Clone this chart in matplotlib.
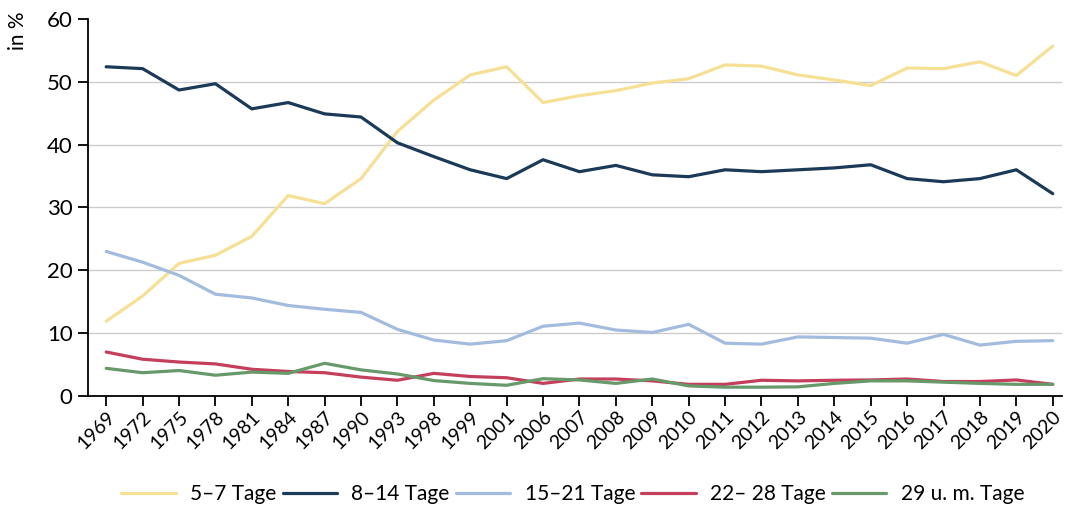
import matplotlib
matplotlib.use('Agg')
import matplotlib.pyplot as plt

plt.rcParams['font.family'] = ['Lato', 'DejaVu Sans']

years = ['1969', '1972', '1975', '1978', '1981', '1984', '1987', '1990', '1993',
         '1998', '1999', '2001', '2006', '2007', '2008', '2009', '2010', '2011',
         '2012', '2013', '2014', '2015', '2016', '2017', '2018', '2019', '2020']

tage_5_7 = [11.9, 15.9, 21.1, 22.4, 25.4, 31.9, 30.6, 34.6, 42.1, 47.1, 51.1, 52.4,
            46.7, 47.8, 48.6, 49.8, 50.5, 52.7, 52.5, 51.1, 50.3, 49.4, 52.2, 52.1,
            53.2, 51.0, 55.7]
tage_8_14 = [52.4, 52.1, 48.7, 49.7, 45.7, 46.7, 44.9, 44.4, 40.3, 38.1, 36.0, 34.6,
             37.6, 35.7, 36.7, 35.2, 34.9, 36.0, 35.7, 36.0, 36.3, 36.8, 34.6, 34.1,
             34.6, 36.0, 32.2]
tage_15_21 = [23.0, 21.3, 19.2, 16.2, 15.6, 14.4, 13.8, 13.3, 10.6, 8.9, 8.25, 8.8,
              11.1, 11.6, 10.5, 10.1, 11.4, 8.4, 8.25, 9.4, 9.3, 9.2, 8.4, 9.8,
              8.1, 8.7, 8.8]
tage_22_28 = [7.0, 5.85, 5.4, 5.1, 4.25, 3.9, 3.7, 3.0, 2.5, 3.6, 3.1, 2.9,
              2.0, 2.7, 2.7, 2.4, 1.85, 1.85, 2.5, 2.4, 2.5, 2.55, 2.7, 2.3,
              2.3, 2.55, 1.85]
tage_29 = [4.4, 3.7, 4.05, 3.3, 3.8, 3.6, 5.2, 4.15, 3.5, 2.45, 2.0, 1.7,
           2.75, 2.55, 2.0, 2.7, 1.6, 1.4, 1.4, 1.45, 2.0, 2.4, 2.4, 2.2,
           2.0, 1.85, 1.85]

series = [
    ('5–7 Tage', tage_5_7, '#F6E095'),
    ('8–14 Tage', tage_8_14, '#1B3A57'),
    ('15–21 Tage', tage_15_21, '#A3BCDE'),
    ('22– 28 Tage', tage_22_28, '#C43F5B'),
    ('29 u. m. Tage', tage_29, '#67996B'),
]

fig = plt.figure(figsize=(10.69, 5.07), dpi=100)
ax = fig.add_axes([0.0823, 0.219, 0.911, 0.7435])

x = list(range(len(years)))
for name, vals, col in series:
    ax.plot(x, vals, color=col, lw=2.3, label=name, solid_capstyle='round')

ax.set_xlim(-0.5, 26.25)
ax.set_ylim(0, 60)
ax.set_yticks([0, 10, 20, 30, 40, 50, 60])
ax.set_xticks(x)
ax.set_xticklabels(years, rotation=45, ha='right', rotation_mode='anchor')
for g in [10, 20, 30, 40, 50]:
    ax.axhline(g, color='#cccccc', lw=1, zorder=0)

ax.spines['top'].set_visible(False)
ax.spines['right'].set_visible(False)
ax.spines['left'].set_linewidth(1.3)
ax.spines['bottom'].set_linewidth(1.3)
ax.tick_params(axis='y', length=7, width=1.3, labelsize=16, pad=4)
ax.tick_params(axis='x', length=7, width=1.3, labelsize=14, pad=2)
ax.set_ylabel('in %', fontsize=15)
ax.yaxis.set_label_coords(-0.062, 0.97)

fig.legend(loc='center', bbox_to_anchor=(0.536, 0.026), ncol=5, frameon=False,
           fontsize=15, handlelength=2.6, columnspacing=0.3, handletextpad=0.7,
           borderpad=0.1)

fig.savefig('out.png', dpi=100)
